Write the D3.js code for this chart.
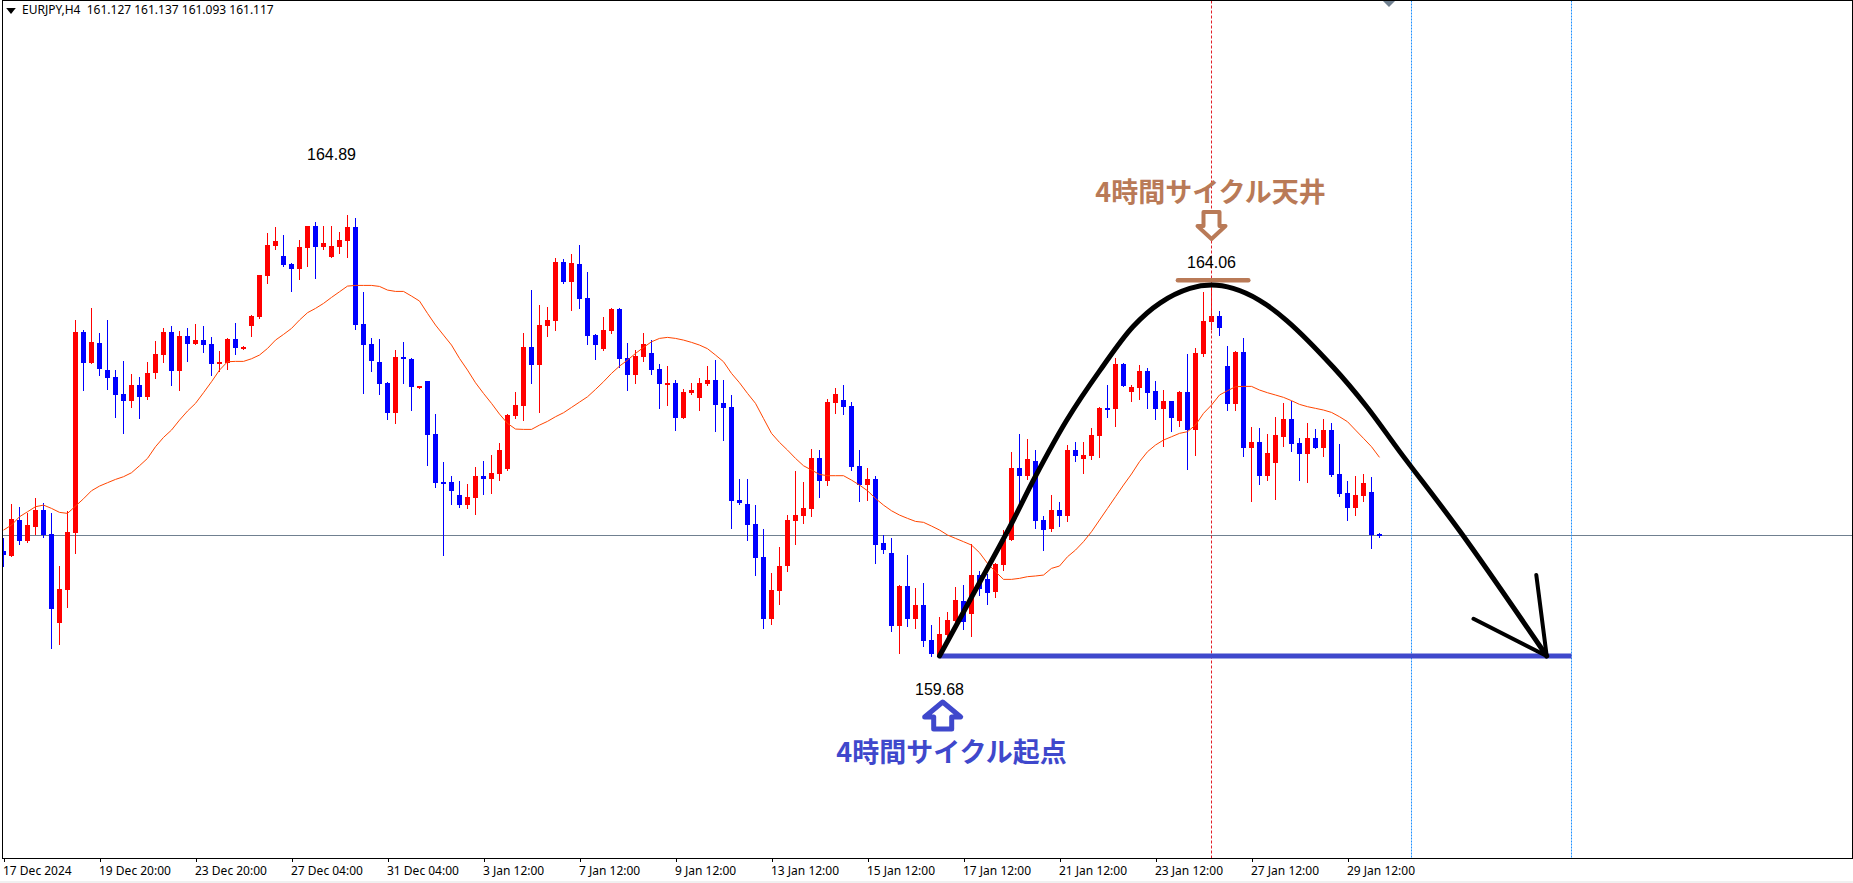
<!DOCTYPE html>
<html><head><meta charset="utf-8">
<style>
html,body{margin:0;padding:0;background:#fff;overflow:hidden}
svg{display:block}
text{font-family:"Noto Sans",sans-serif}
.num{font-family:"Liberation Sans",Arial,sans-serif;font-size:16px;fill:#000}
.jp{font-family:"Noto Sans CJK JP",sans-serif;font-size:27px;font-weight:700}
</style>
<script src="https://cdn.jsdelivr.net/npm/d3@7"></script>
</head><body>
<script>
const tickBars=[0,12,24,36,48,60,72,84,96,108,120,132,144,156,168];
const tickLabels=["17 Dec 2024","19 Dec 20:00","23 Dec 20:00","27 Dec 04:00","31 Dec 04:00","3 Jan 12:00","7 Jan 12:00","9 Jan 12:00","13 Jan 12:00","15 Jan 12:00","17 Jan 12:00","21 Jan 12:00","23 Jan 12:00","27 Jan 12:00","29 Jan 12:00"];

// OHLC per 4h bar, [open,high,low,close]
const ohlc0=[[160.922,161.072,160.748,160.875],[160.867,161.478,160.867,161.301],[161.289,161.443,161.009,161.044],[161.040,161.372,161.032,161.230],[161.210,161.545,161.123,161.407],[161.407,161.486,161.092,161.115],[161.123,161.372,159.778,160.239],[160.074,160.744,159.825,160.472],[160.464,161.391,160.263,161.147],[161.139,163.656,160.902,163.514],
[163.514,163.537,162.827,163.151],[163.151,163.798,163.151,163.395],[163.384,163.502,163.009,163.080],[163.064,163.656,162.839,162.973],[162.981,163.064,162.508,162.772],[162.780,163.171,162.322,162.701],[162.701,163.017,162.626,162.887],[162.887,162.981,162.496,162.748],[162.748,163.159,162.725,163.029],[163.032,163.407,162.969,163.253],
[163.246,163.561,163.159,163.514],[163.514,163.585,162.887,163.056],[163.056,163.526,162.827,163.466],[163.466,163.561,163.171,163.376],[163.376,163.608,163.376,163.419],[163.419,163.585,163.277,163.364],[163.372,163.455,163.005,163.139],[163.139,163.289,163.052,163.159],[163.151,163.443,163.076,163.431],[163.431,163.620,163.253,163.328],
[163.328,163.348,163.313,163.336],[163.589,163.715,163.466,163.703],[163.691,164.188,163.679,164.188],[164.180,164.685,164.094,164.543],[164.532,164.756,164.496,164.591],[164.413,164.662,164.295,164.307],[164.319,164.330,163.999,164.259],[164.259,164.603,164.141,164.520],[164.508,164.768,164.295,164.768],[164.768,164.816,164.153,164.520],
[164.520,164.768,164.496,164.567],[164.401,164.768,164.401,164.532],[164.520,164.697,164.449,164.603],[164.591,164.898,164.401,164.756],[164.756,164.863,163.549,163.597],[163.608,163.987,162.792,163.360],[163.372,163.443,163.052,163.171],[163.159,163.431,162.780,162.898],[162.910,162.922,162.484,162.555],[162.555,163.301,162.437,163.218],
[163.218,163.395,162.910,163.194],[163.194,163.206,162.591,162.863],[162.851,162.875,162.851,162.875],[162.934,162.934,161.940,162.295],[162.307,162.543,161.679,161.727],[161.739,161.975,160.875,161.715],[161.739,161.810,161.478,161.632],[161.585,161.750,161.443,161.466],[161.466,161.715,161.431,161.561],[161.549,161.916,161.360,161.810]];
const ohlc1=[[161.810,161.987,161.597,161.774],[161.774,162.058,161.608,161.845],[161.833,162.200,161.762,162.117],[161.892,162.543,161.881,162.532],[162.520,162.804,162.496,162.650],[162.638,163.502,162.472,163.336],[163.336,164.011,162.910,163.123],[163.123,163.833,162.567,163.597],[163.585,163.810,163.466,163.656],[163.644,164.390,163.537,164.342],
[164.342,164.378,164.094,164.106],[164.106,164.437,163.774,164.330],[164.319,164.543,163.798,163.904],[163.916,164.224,163.372,163.466],[163.478,163.490,163.194,163.360],[163.313,163.691,163.301,163.537],[163.526,163.798,163.502,163.786],[163.786,163.798,163.100,163.194],[163.206,163.384,162.827,163.005],[163.005,163.301,162.910,163.230],
[163.218,163.502,163.171,163.372],[163.265,163.419,163.017,163.064],[163.076,163.135,162.614,162.898],[162.887,163.111,162.650,162.910],[162.910,162.946,162.354,162.496],[162.496,162.839,162.496,162.804],[162.792,162.910,162.780,162.827],[162.733,162.969,162.591,162.910],[162.898,163.111,162.887,162.946],[162.946,163.182,162.342,162.650],
[162.674,162.946,162.236,162.614],[162.626,162.768,161.194,161.514],[161.526,161.774,161.478,161.490],[161.478,161.774,161.052,161.230],[161.242,161.466,160.638,160.839],[160.851,161.182,160.011,160.117],[160.117,160.662,160.058,160.460],[160.449,160.969,160.295,160.744],[160.744,161.348,160.685,161.289],[161.277,161.869,161.005,161.348],
[161.336,161.739,161.253,161.431],[161.419,162.129,161.336,162.023],[162.023,162.117,161.561,161.750],[161.750,162.721,161.703,162.685],[162.674,162.851,162.555,162.780],[162.709,162.887,162.543,162.626],[162.638,162.685,161.881,161.916],[161.928,162.117,161.514,161.703],[161.703,161.904,161.526,161.774],[161.774,161.810,160.780,160.993],
[161.017,161.111,160.898,160.934],[160.898,161.076,159.975,160.034],[160.034,160.520,159.715,160.508]];
const ohlc2=[[160.508,160.875,160.035,160.118],[160.118,160.484,160.011,160.283],[160.283,160.544,159.798,159.857],[159.869,160.047,159.680,159.703],[159.692,160.141,159.680,159.940],[159.928,160.200,159.869,160.106],[160.094,160.496,160.094,160.342],[160.331,160.520,159.999,160.086],[160.177,161.005,159.916,160.638],[160.638,160.686,160.402,160.473],
[160.591,160.650,160.295,160.425],[160.437,160.780,160.378,160.769],[160.757,161.171,160.697,161.053],[161.053,162.094,161.053,161.905],[161.905,162.307,161.486,161.810],[161.810,162.248,161.775,162.011],[161.988,162.118,161.195,161.277],[161.289,161.337,160.934,161.171],[161.183,161.585,161.159,161.408],[161.408,161.502,161.218,161.337],
[161.337,162.177,161.277,162.118],[162.118,162.212,161.988,162.047],[162.011,162.212,161.845,162.059],[162.047,162.378,162.011,162.295],[162.283,162.627,162.035,162.615],[162.615,162.887,162.508,162.603],[162.603,163.207,162.402,163.136],[163.136,163.147,162.875,162.875],[162.804,162.887,162.698,162.863],[162.851,163.124,162.721,163.053],
[163.053,163.088,162.615,162.792],[162.816,162.934,162.485,162.603],[162.603,162.828,162.165,162.698],[162.698,162.698,162.343,162.496],[162.461,162.816,162.402,162.804],[162.804,163.254,161.893,162.354],[162.354,163.325,162.059,163.266],[163.254,163.988,163.230,163.644],[163.633,164.059,163.550,163.704],[163.704,163.763,163.479,163.562],
[163.112,163.349,162.591,162.662],[162.662,163.289,162.591,163.278],[163.278,163.443,162.047,162.141],[162.141,162.390,161.514,162.212],[162.212,162.378,161.715,161.810],[161.810,162.307,161.763,162.082],[161.964,162.508,161.538,162.295],[162.272,162.674,162.165,162.485],[162.485,162.698,162.106,162.189],[162.201,162.260,161.763,162.070],
[162.070,162.437,161.739,162.260],[162.260,162.366,162.141,162.141],[162.141,162.485,162.047,162.354],[162.354,162.437,161.810,161.822],[161.834,162.189,161.573,161.597],[161.609,161.751,161.289,161.431],[161.431,161.810,161.348,161.585],[161.573,161.834,161.514,161.727],[161.621,161.798,160.958,161.112],[161.127,161.137,161.093,161.117]];
const ohlc=ohlc0.concat(ohlc1,ohlc2);

// moving average, one value per bar
const maValues=[161.170,161.230,161.328,161.387,161.447,161.466,161.427,161.380,161.368,161.454,161.541,161.636,161.691,161.731,161.770,161.802,161.849,161.932,162.019,162.157,162.267,162.354,162.472,162.579,162.670,162.796,162.926,163.064,163.163,163.167,163.167,163.198,163.242,163.320,163.419,163.486,163.557,163.656,163.743,163.794,163.853,163.924,163.991,164.058,164.066,164.066,164.066,164.054,164.011,163.995,163.995,163.940,163.881,163.735,163.597,163.478,163.360,163.202,163.064,162.914,
162.788,162.670,162.543,162.433,162.366,162.362,162.362,162.413,162.457,162.512,162.559,162.622,162.685,162.748,162.835,162.926,163.025,163.111,163.182,163.261,163.332,163.399,163.439,163.451,163.439,163.419,163.392,163.360,163.317,163.242,163.163,163.025,162.914,162.788,162.670,162.492,162.315,162.208,162.117,162.019,161.932,161.881,161.829,161.814,161.814,161.814,161.762,161.703,161.636,161.545,161.466,161.399,161.348,
161.309,161.273,161.262,161.218,161.171,161.112,161.072,161.033,160.993,160.903,160.776,160.678,160.587,160.587,160.599,160.619,160.627,160.638,160.717,160.745,160.855,160.934,161.033,161.151,161.289,161.427,161.565,161.703,161.834,161.980,162.098,162.177,162.236,162.275,162.315,162.335,162.414,162.552,162.650,162.769,162.820,162.867,162.871,162.871,162.828,162.796,162.769,162.741,162.702,162.658,162.631,162.611,162.591,162.563,162.512,162.453,162.354,162.256,162.157,162.031];

// hand-drawn cycle curve: bar position / price
const cycleBars=[117,120.8,125.8,128.9,132.9,137.06,141.2,144.6,148.3,151,153.7,157,160.4,166.2,170.4,174.6,182.1,192.9];
const cyclePrices=[159.68,160.34,161.21,161.79,162.47,163.06,163.58,163.86,164.03,164.07,164.03,163.89,163.65,163.10,162.63,162.09,161.15,159.68];
const arrowHeadBars=[191.6,192.9,183.75];
const arrowHeadPrices=[160.64,159.68,160.12];

const currentPrice=161.117, cycleLow=159.68, cycleHigh=164.06, periodHigh=164.89;
const topMarkerBars=[146.8,155.6], topMarkerPrice=164.126;
const lowLineBars=[117,196], lowLinePrice=159.68;
const vRed=[151], vBlue=[176,196];
const labelBars=[41,151,117], labelPrices=[periodHigh,cycleHigh,cycleLow], labelOffsets=[-56,-18,39], labelTexts=["164.89","164.06","159.68"];
const header="EURJPY,H4  161.127 161.137 161.093 161.117";
const topTitle="4時間サイクル天井", bottomTitle="4時間サイクル起点";
const colUp="#ff0000",colDn="#0000ff",colMA="#ff4500",colBrown="#b97a57",colBlue="#3f48cc";

const W=1853,H=883;
const pL=2.5,pR=1852.5,pT=0.5,pB=858.5;
const x=d3.scaleLinear().domain([0,172]).range([3.5,1379.5]);
const y=d3.scaleLinear().domain([159.68,164.89]).range([656,215.8]);
const svg=d3.select("body").append("svg").attr("width",W).attr("height",H);
svg.append("rect").attr("width",W).attr("height",H).attr("fill","#fff");
svg.append("rect").attr("x",0).attr("y",881).attr("width",W).attr("height",2).attr("fill","#f0f0f0");
svg.append("clipPath").attr("id","plot").append("rect").attr("x",3).attr("y",1).attr("width",1849).attr("height",857);
const g=svg.append("g").attr("clip-path","url(#plot)");

// current price line
const py=Math.round(y(currentPrice))+.5;
g.append("line").attr("x1",pL).attr("x2",pR).attr("y1",py).attr("y2",py).attr("stroke","#708090").attr("stroke-width",1);

// candles
const c=g.append("g").attr("shape-rendering","crispEdges").selectAll("g").data(ohlc).join("g");
c.append("line").attr("x1",(d,i)=>x(i)).attr("x2",(d,i)=>x(i)).attr("y1",d=>Math.round(y(d[1]))).attr("y2",d=>Math.round(y(d[2]))+1)
 .attr("stroke",d=>d[3]>=d[0]?colUp:colDn).attr("stroke-width",1);
c.append("rect").attr("x",(d,i)=>x(i)-2.5).attr("width",5)
 .attr("y",d=>Math.round(y(Math.max(d[0],d[3]))))
 .attr("height",d=>Math.max(2,Math.round(y(Math.min(d[0],d[3])))-Math.round(y(Math.max(d[0],d[3])))))
 .attr("fill",d=>d[3]>=d[0]?colUp:colDn);

// moving average
g.append("path").datum(maValues).attr("fill","none").attr("stroke",colMA).attr("stroke-width",1)
 .attr("d",d3.line().x((d,i)=>x(i)).y(d=>y(d)));

// vertical lines
vRed.forEach(b=>g.append("line").attr("x1",x(b)).attr("x2",x(b)).attr("y1",pT).attr("y2",pB).attr("stroke","#e0202a").attr("stroke-width",1).attr("stroke-dasharray","3 2"));
vBlue.forEach(b=>g.append("line").attr("x1",x(b)).attr("x2",x(b)).attr("y1",pT).attr("y2",pB).attr("stroke","#1e90ff").attr("stroke-width",1).attr("stroke-dasharray","2 1"));

// annotations
g.append("line").attr("x1",x(lowLineBars[0])).attr("x2",x(lowLineBars[1])).attr("y1",y(lowLinePrice)).attr("y2",y(lowLinePrice)).attr("stroke",colBlue).attr("stroke-width",5);
g.append("line").attr("x1",x(topMarkerBars[0])).attr("x2",x(topMarkerBars[1])).attr("y1",y(topMarkerPrice)).attr("y2",y(topMarkerPrice)).attr("stroke",colBrown).attr("stroke-width",4.5).attr("stroke-linecap","round");
g.append("path").datum(d3.zip(cycleBars,cyclePrices)).attr("fill","none").attr("stroke","#000").attr("stroke-width",5).attr("stroke-linecap","round")
 .attr("d",d3.line().curve(d3.curveCatmullRom.alpha(.5)).x(d=>x(d[0])).y(d=>y(d[1])));
g.append("path").datum(d3.zip(arrowHeadBars,arrowHeadPrices)).attr("fill","none").attr("stroke","#000").attr("stroke-width",4).attr("stroke-linecap","round").attr("stroke-linejoin","round")
 .attr("d",d3.line().x(d=>x(d[0])).y(d=>y(d[1])));

// block arrows
function blockArrow(cx,tip,dir,hw,sw,head,len,col,sw2){
  const p=d3.path();
  p.moveTo(cx,tip);p.lineTo(cx+hw,tip+dir*head);p.lineTo(cx+sw,tip+dir*head);p.lineTo(cx+sw,tip+dir*len);
  p.lineTo(cx-sw,tip+dir*len);p.lineTo(cx-sw,tip+dir*head);p.lineTo(cx-hw,tip+dir*head);p.closePath();
  g.append("path").attr("d",p.toString()).attr("fill","#fff").attr("stroke",col).attr("stroke-width",sw2).attr("stroke-linejoin","round");
}
blockArrow(x(151),y(cycleHigh)-47,-1,14,8,13,27,colBrown,4);
blockArrow(x(117.4),y(cycleLow)+46,1,18,9,15,27,colBlue,5);

// texts
labelTexts.forEach((t,i)=>g.append("text").attr("class","num").attr("text-anchor","middle")
 .attr("x",x(labelBars[i])).attr("y",y(labelPrices[i])+labelOffsets[i]).text(t));
g.append("text").attr("class","jp").attr("x",x(151)-1).attr("y",y(cycleHigh)-84).attr("text-anchor","middle").attr("fill",colBrown).text(topTitle);
g.append("text").attr("class","jp").attr("x",x(118.5)).attr("y",y(cycleLow)+106).attr("text-anchor","middle").attr("fill",colBlue).text(bottomTitle);

// header
svg.append("path").attr("d",d3.symbol(d3.symbolTriangle,40)()).attr("transform","translate(11,10) rotate(180) scale(1,.7)").attr("fill","#000");
svg.append("text").attr("x",22).attr("y",14).attr("font-size",12).attr("fill","#000").style("white-space","pre").text(header);

// small object marker at top
svg.append("path").attr("d",d3.line()([[1383,1],[1395,1],[1389,7]])).attr("fill","#708090");

// frame
const f=svg.append("g").attr("shape-rendering","crispEdges").attr("stroke","#000").attr("fill","none");
f.append("path").attr("d",d3.line()([[pL,pB],[pL,pT],[pR,pT],[pR,pB]]));

// time axis
const axis=d3.axisBottom(x).tickValues(tickBars).tickSize(3).tickPadding(5).tickFormat((d,i)=>tickLabels[i]);
const ax=svg.append("g").attr("transform",`translate(0,${pB})`).call(axis);
ax.select(".domain").attr("d",`M${pL},0H${pR}`).attr("stroke","#000").attr("shape-rendering","crispEdges");
ax.selectAll(".tick line").attr("stroke","#000").attr("shape-rendering","crispEdges");
ax.selectAll(".tick text").attr("text-anchor","start").attr("x",-1).attr("font-family",'"Noto Sans",sans-serif').attr("font-size",12).attr("fill","#000");
</script>
</body></html>
